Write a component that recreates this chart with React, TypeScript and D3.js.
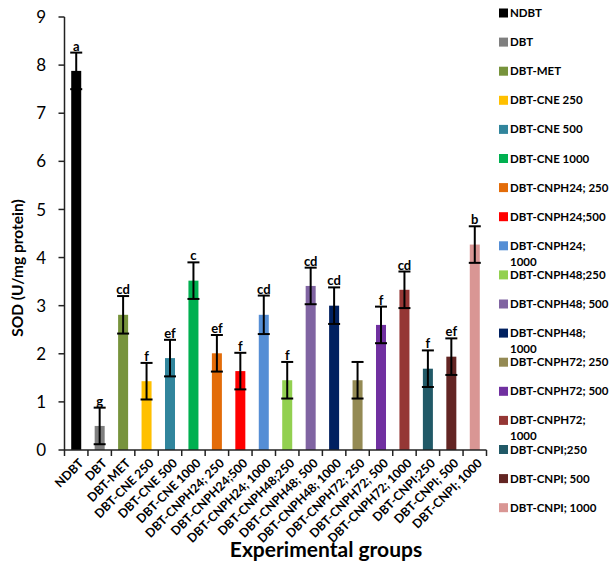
import React from "react";
import * as d3 from "d3";

const categories = [
  "NDBT", "DBT", "DBT-MET", "DBT-CNE 250", "DBT-CNE 500", "DBT-CNE 1000",
  "DBT-CNPH24; 250", "DBT-CNPH24;500", "DBT-CNPH24; 1000", "DBT-CNPH48;250",
  "DBT-CNPH48; 500", "DBT-CNPH48; 1000", "DBT-CNPH72; 250", "DBT-CNPH72; 500",
  "DBT-CNPH72; 1000", "DBT-CNPI;250", "DBT-CNPI; 500", "DBT-CNPI; 1000",
];
const values = [7.88, 0.5, 2.81, 1.43, 1.91, 3.52, 2.01, 1.64, 2.81, 1.45, 3.41, 3.0, 1.45, 2.6, 3.33, 1.69, 1.94, 4.27];
const errors = [0.38, 0.38, 0.39, 0.38, 0.38, 0.38, 0.38, 0.38, 0.4, 0.38, 0.38, 0.38, 0.38, 0.38, 0.38, 0.38, 0.38, 0.38];
const letters = ["a", "g", "cd", "f", "ef", "c", "ef", "f", "cd", "f", "cd", "cd", "", "f", "cd", "f", "ef", "b"];
const colors = [
  "#000000", "#7f7f7f", "#77933c", "#ffc000", "#31859c", "#00b050",
  "#e36c09", "#ff0000", "#558ed5", "#92d050", "#8064a2", "#002060",
  "#948a54", "#7030a0", "#953735", "#215967", "#632523", "#d99694",
];
const yTicks = [0, 1, 2, 3, 4, 5, 6, 7, 8, 9];
const yTitle = "SOD (U/mg protein)";
const xTitle = "Experimental groups";

const W = 610, H = 570;
const plot = { left: 64.5, right: 486.5, top: 17, bottom: 450 };
const FONT = "Lato, 'Open Sans', sans-serif";

function wrapLabel(s: string): string[] {
  if (s.length <= 15) return [s];
  const i = s.lastIndexOf(" ");
  return [s.slice(0, i), s.slice(i + 1)];
}

export default function App() {
  const x = d3.scaleBand<string>().domain(categories).range([plot.left, plot.right]).paddingInner(0.573).paddingOuter(0.2865);
  const step = (plot.right - plot.left) / categories.length;
  const y = d3.scaleLinear().domain([0, 9]).range([plot.bottom, plot.top]);
  const bw = x.bandwidth();
  const capW = 12;

  return (
    <div style={{ position: "absolute", left: 0, top: 0 }}>
      <svg width={W} height={H} style={{ display: "block", background: "#fff" }}>
        {categories.map((c, i) => (
          <rect key={c} x={x(c)} y={y(values[i])} width={bw} height={y(0) - y(values[i])} fill={colors[i]} />
        ))}
        {categories.map((c, i) => {
          const cx = (x(c) as number) + bw / 2;
          const hi = y(values[i] + errors[i]);
          const lo = y(values[i] - errors[i]);
          return (
            <g key={"e" + c} stroke="#000" strokeWidth={2}>
              <line x1={cx} x2={cx} y1={hi} y2={lo} />
              <line x1={cx - capW / 2} x2={cx + capW / 2} y1={hi} y2={hi} />
              <line x1={cx - capW / 2} x2={cx + capW / 2} y1={lo} y2={lo} />
            </g>
          );
        })}
        {categories.map((c, i) => (
          <text key={"l" + c} x={(x(c) as number) + bw / 2} y={y(values[i] + errors[i]) - 2}
            textAnchor="middle" fontFamily={FONT} fontWeight="bold" fontSize={13} fill="#000">
            {letters[i]}
          </text>
        ))}
        <line x1={plot.left} x2={plot.left} y1={plot.top} y2={plot.bottom} stroke="#222" strokeWidth={1.5} />
        {yTicks.map((t) => (
          <g key={"yt" + t}>
            <line x1={plot.left - 6} x2={plot.left} y1={y(t)} y2={y(t)} stroke="#222" strokeWidth={1.5} />
            <text x={46} y={y(t)} dy="0.36em" textAnchor="end" fontFamily={FONT} fontSize={17} fill="#000">{t}</text>
          </g>
        ))}
        <line x1={plot.left} x2={plot.right} y1={plot.bottom} y2={plot.bottom} stroke="#222" strokeWidth={1.5} />
        {d3.range(categories.length + 1).map((k) => (
          <line key={"xt" + k} x1={plot.left + k * step} x2={plot.left + k * step} y1={plot.bottom} y2={plot.bottom + 6} stroke="#222" strokeWidth={1.5} />
        ))}
        {categories.map((c) => {
          const tx = (x(c) as number) + bw / 2 + 5;
          const ty = plot.bottom + 11;
          return (
            <text key={"xl" + c} transform={`translate(${tx},${ty}) rotate(-45)`} textAnchor="end"
              dy="0.35em" fontFamily={FONT} fontWeight="bold" fontSize={12.3} fill="#000">
              {c}
            </text>
          );
        })}
        <text transform={`translate(23,268) rotate(-90)`} textAnchor="middle"
          fontFamily={FONT} fontWeight="bold" fontSize={15.5} fill="#000">{yTitle}</text>
        <text x={326} y={557} textAnchor="middle" fontFamily={FONT} fontWeight="bold" fontSize={21} fill="#000">{xTitle}</text>
        {categories.map((c, i) => {
          const ly = 13 + i * 29.1;
          const lines = wrapLabel(c);
          return (
            <g key={"lg" + c}>
              <rect x={499} y={ly - 4.5} width={9} height={9} fill={colors[i]} />
              <text x={510} y={ly} fontFamily={FONT} fontWeight="bold" fontSize={11.5} fill="#000">
                {lines.map((s, k) => (
                  <tspan key={k} x={510} dy={k === 0 ? "0.35em" : 16}>{s}</tspan>
                ))}
              </text>
            </g>
          );
        })}
      </svg>
    </div>
  );
}
